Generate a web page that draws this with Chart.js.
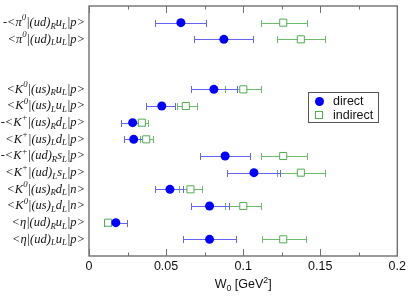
<!DOCTYPE html>
<html>
<head>
<meta charset="utf-8">
<script src="https://cdn.jsdelivr.net/npm/chart.js@4"></script>
<style>
  body { margin: 0; background: #fff; }
  canvas { display: block; }
</style>
</head>
<body>
<canvas id="w0Chart" width="409" height="297"></canvas>
<script>
// rows from top to bottom; slots 3 and 4 are left empty
const rowPos = [1, 2, 5, 6, 7, 8, 9, 10, 11, 12, 13, 14];
const rowLabels = [
    '-<π^0|(ud)_Ru_L|p>',
    '<π^0|(ud)_Lu_L|p>',
    '<K^0|(us)_Ru_L|p>',
    '<K^0|(us)_Lu_L|p>',
    '-<K^+|(us)_Rd_L|p>',
    '<K^+|(us)_Ld_L|p>',
    '-<K^+|(ud)_Rs_L|p>',
    '<K^+|(ud)_Ls_L|p>',
    '<K^0|(us)_Rd_L|n>',
    '<K^0|(us)_Ld_L|n>',
    '<η|(ud)_Ru_L|p>',
    '<η|(ud)_Lu_L|p>'
];

const directVal = [0.0596, 0.0875, 0.0810, 0.0472, 0.0283, 0.0290, 0.0883, 0.1070, 0.0525, 0.0782, 0.0174, 0.0782];
const directLo  = [0.0431, 0.0684, 0.0660, 0.0367, 0.0210, 0.0225, 0.0720, 0.0898, 0.0429, 0.0660, 0.0100, 0.0607];
const directHi  = [0.0761, 0.1061, 0.0960, 0.0557, 0.0355, 0.0355, 0.1046, 0.1239, 0.0607, 0.0907, 0.0246, 0.0956];

const indirectVal = [0.1260, 0.1374, 0.1001, 0.0628, 0.0343, 0.0371, 0.1260, 0.1374, 0.0658, 0.1001, 0.0124, 0.1260];
const indirectLo  = [0.1117, 0.1218, 0.0885, 0.0574, 0.0317, 0.0328, 0.1117, 0.1218, 0.0581, 0.0885, 0.0103, 0.1121];
const indirectHi  = [0.1415, 0.1533, 0.1117, 0.0699, 0.0381, 0.0413, 0.1415, 0.1533, 0.0731, 0.1115, 0.0145, 0.1406];

const xTicks = [0, 0.05, 0.1, 0.15, 0.2];
const xTickLabels = ['0', '0.05', '0.1', '0.15', '0.2'];
const minorStep = 0.025;

const blue = '#0000ff';
const blueBar = '#6464f4';
const green = '#4fae4f';
const greenBar = '#6cbc6c';
const frameColor = '#707070';

function makePoints(vals) {
    return vals.map((v, i) => ({ x: v, y: rowPos[i] }));
}

// split "a^b_c" into normal / superscript / subscript pieces
function parseRich(str) {
    const parts = [];
    for (let i = 0; i < str.length; i++) {
        const c = str[i];
        if ((c === '^' || c === '_') && i + 1 < str.length) {
            parts.push({ t: str[i + 1], m: c === '^' ? 'sup' : 'sub' });
            i++;
        } else if (parts.length && parts[parts.length - 1].m === 'n') {
            parts[parts.length - 1].t += c;
        } else {
            parts.push({ t: c, m: 'n' });
        }
    }
    return parts;
}

function drawRich(ctx, str, x, y, size, family, style, align) {
    const parts = parseRich(str);
    const fontFor = m => style + ' ' + (m === 'n' ? size : size * 0.7) + 'px ' + family;
    let total = 0;
    parts.forEach(p => { ctx.font = fontFor(p.m); p.w = ctx.measureText(p.t).width; total += p.w; });
    let cx = align === 'right' ? x - total : (align === 'center' ? x - total / 2 : x);
    ctx.textBaseline = 'middle';
    ctx.textAlign = 'left';
    parts.forEach(p => {
        ctx.font = fontFor(p.m);
        let dy = 0;
        if (p.m === 'sup') dy = -size * 0.38;
        if (p.m === 'sub') dy = size * 0.3;
        ctx.fillText(p.t, cx, y + dy);
        cx += p.w;
    });
}

const errorBars = {
    id: 'errorBars',
    beforeDatasetsDraw(chart) {
        const { ctx, scales: { x, y } } = chart;
        const sets = [
            { lo: indirectLo, hi: indirectHi, color: greenBar },
            { lo: directLo, hi: directHi, color: blueBar }
        ];
        ctx.save();
        ctx.lineWidth = 1;
        sets.forEach(s => {
            ctx.strokeStyle = s.color;
            s.lo.forEach((lo, i) => {
                const py = Math.round(y.getPixelForValue(rowPos[i])) + 0.5;
                const x1 = Math.round(x.getPixelForValue(lo)) + 0.5;
                const x2 = Math.round(x.getPixelForValue(s.hi[i])) + 0.5;
                ctx.beginPath();
                ctx.moveTo(x1, py); ctx.lineTo(x2, py);
                ctx.moveTo(x1, py - 3.5); ctx.lineTo(x1, py + 3.5);
                ctx.moveTo(x2, py - 3.5); ctx.lineTo(x2, py + 3.5);
                ctx.stroke();
            });
        });
        ctx.restore();
    }
};

const decorations = {
    id: 'decorations',
    afterDraw(chart) {
        const { ctx, chartArea: a, scales: { x, y } } = chart;
        ctx.save();

        // frame
        ctx.strokeStyle = frameColor;
        ctx.lineWidth = 1.4;
        ctx.strokeRect(a.left, a.top, a.right - a.left, a.bottom - a.top);

        // inward ticks on bottom and top
        ctx.lineWidth = 1;
        for (let k = 0; k <= 8; k++) {
            const v = k * minorStep;
            const px = Math.round(x.getPixelForValue(v)) + 0.5;
            const len = k % 2 === 0 ? 7 : 3.5;
            ctx.beginPath();
            ctx.moveTo(px, a.bottom); ctx.lineTo(px, a.bottom - len);
            ctx.moveTo(px, a.top); ctx.lineTo(px, a.top + len);
            ctx.stroke();
        }

        // row labels
        ctx.fillStyle = '#111';
        rowLabels.forEach((lab, i) => {
            drawRich(ctx, lab, 85, y.getPixelForValue(rowPos[i]), 12.5, '"Liberation Serif"', 'italic', 'right');
        });

        // axis title
        drawRich(ctx, 'W_0 [GeV^2]', (a.left + a.right) / 2, 285, 12.5, '"Liberation Sans"', 'normal', 'center');

        // legend
        const lx = 308, ly = 92, lw = 70, lh = 30;
        ctx.fillStyle = '#fff';
        ctx.fillRect(lx, ly, lw, lh);
        ctx.strokeStyle = '#555';
        ctx.lineWidth = 1;
        ctx.strokeRect(lx + 0.5, ly + 0.5, lw, lh);
        ctx.fillStyle = blue;
        ctx.beginPath();
        ctx.arc(319.5, 101.5, 4.5, 0, Math.PI * 2);
        ctx.fill();
        ctx.strokeStyle = green;
        ctx.fillStyle = '#fff';
        ctx.fillRect(315.5, 111.5, 7, 7);
        ctx.strokeRect(315.5, 111.5, 7, 7);
        ctx.fillStyle = '#111';
        ctx.font = '12.5px "Liberation Sans"';
        ctx.textAlign = 'left';
        ctx.textBaseline = 'middle';
        ctx.fillText('direct', 333, 101.5);
        ctx.fillText('indirect', 333, 115.5);

        ctx.restore();
    }
};

const ctx = document.getElementById('w0Chart').getContext('2d');
const w0Chart = new Chart(ctx, {
    type: 'scatter',
    data: {
        datasets: [{
            label: 'direct',
            data: makePoints(directVal),
            pointStyle: 'circle',
            pointRadius: 4.5,
            backgroundColor: blue,
            borderColor: blue,
            borderWidth: 0
        }, {
            label: 'indirect',
            data: makePoints(indirectVal),
            pointStyle: 'rect',
            pointRadius: 5,
            backgroundColor: '#fff',
            borderColor: green,
            borderWidth: 1
        }]
    },
    options: {
        responsive: false,
        animation: false,
        layout: { padding: { left: 89, right: 9, top: 2, bottom: 0 } },
        plugins: {
            legend: { display: false },
            tooltip: { enabled: false }
        },
        scales: {
            x: {
                type: 'linear',
                min: 0,
                max: 0.2,
                afterBuildTicks: scale => { scale.ticks = xTicks.map(v => ({ value: v })); },
                afterFit: scale => { scale.height = 41; },
                ticks: {
                    color: '#111',
                    padding: 3,
                    font: { family: '"Liberation Sans"', size: 12.5 },
                    callback: (value) => xTickLabels[xTicks.indexOf(value)] ?? ''
                },
                grid: { display: false, drawTicks: false, tickLength: 0 },
                border: { display: false }
            },
            y: {
                type: 'linear',
                min: 0,
                max: 15,
                reverse: true,
                display: false
            }
        }
    },
    plugins: [errorBars, decorations]
});
</script>
</body>
</html>
